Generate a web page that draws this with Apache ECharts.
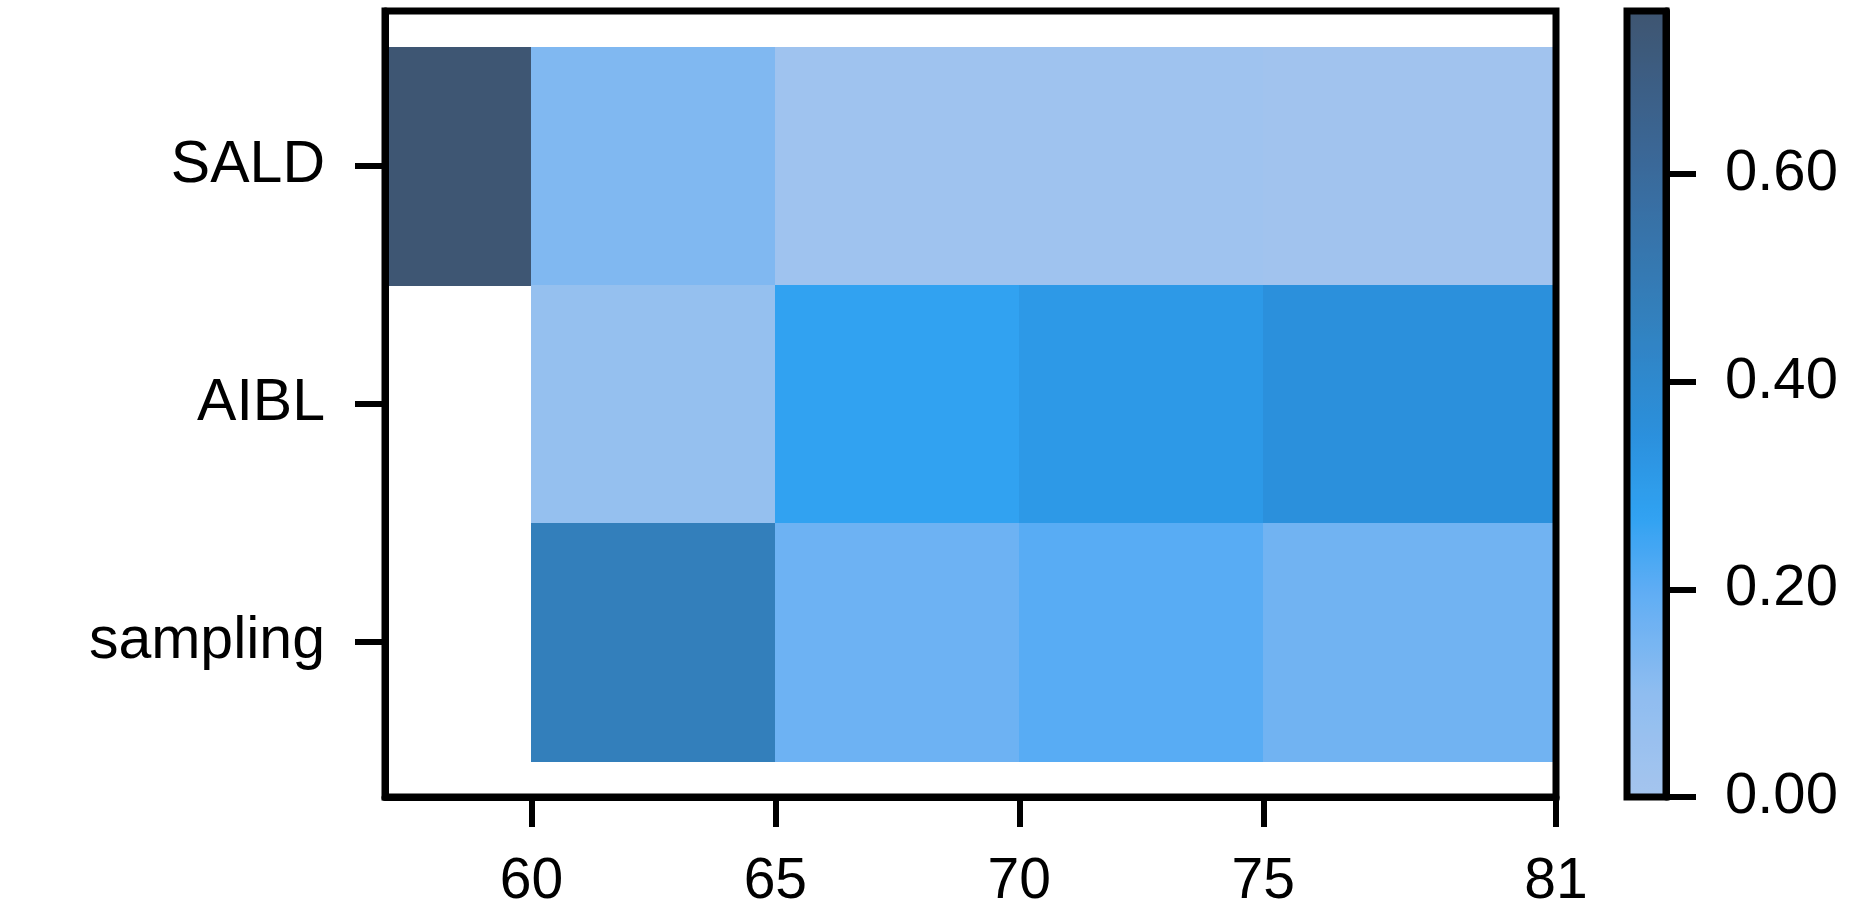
<!DOCTYPE html>
<html>
<head>
<meta charset="utf-8">
<script src="https://cdn.jsdelivr.net/npm/echarts@6/dist/echarts.min.js"></script>
<style>
html,body{margin:0;padding:0;background:#fff;}
#main{width:1849px;height:921px;}
</style>
</head>
<body>
<div id="main"></div>
<script>
// ---- data ----
const categories = ['SALD', 'AIBL', 'sampling'];
const binStarts = [57, 60, 65, 70, 75];
const binEnds = [60, 65, 70, 75, 81];
const saldValues = [0.75, 0.13, 0.03, 0.03, 0.02];
const aiblValues = [null, 0.07, 0.27, 0.31, 0.35];
const samplingValues = [null, 0.47, 0.17, 0.21, 0.16];
const xTickValues = [60, 65, 70, 75, 81];
const colorTickValues = [0, 0.2, 0.4, 0.6];
const colorMin = 0;
const colorMax = 0.757;
// colour ramp key points (value -> colour)
const rampValues = [0, 0.1, 0.2, 0.27, 0.35, 0.47, 0.6, 0.757];
const rampColors = ['#a5c5ee', '#8fbdf0', '#5eadf4', '#30a2f2', '#2b90dc', '#337fbb', '#3a6a9c', '#3e5571'];

// build evenly spaced stops for the visualMap from the key points
function hex2rgb(h) { return [1, 3, 5].map(i => parseInt(h.substr(i, 2), 16)); }
function rgb2hex(c) { return '#' + c.map(v => Math.round(v).toString(16).padStart(2, '0')).join(''); }
function rampAt(v) {
  for (let i = 0; i < rampValues.length - 1; i++) {
    if (v <= rampValues[i + 1]) {
      const t = (v - rampValues[i]) / (rampValues[i + 1] - rampValues[i]);
      const a = hex2rgb(rampColors[i]), b = hex2rgb(rampColors[i + 1]);
      return rgb2hex(a.map((x, k) => x + (b[k] - x) * t));
    }
  }
  return rampColors[rampColors.length - 1];
}
const N = 80;
const colorStops = [];
for (let i = 0; i <= N; i++) colorStops.push(rampAt(colorMin + (colorMax - colorMin) * i / N));

const rows = [saldValues, aiblValues, samplingValues];
const cellData = [];
rows.forEach((vals, r) => {
  vals.forEach((v, i) => {
    if (v !== null) cellData.push([binStarts[i], binEnds[i], r, v]);
  });
});

const FONT = 'Liberation Sans, Arial, Helvetica, sans-serif';
const BW = 7;
const TW = 6;
const TL = 30;
const chart = echarts.init(document.getElementById('main'));
chart.setOption({
  animation: false,
  backgroundColor: '#fff',
  grid: [
    {left: 385, right: 293, top: 11, bottom: 124, show: true, borderColor: '#000', borderWidth: BW, z: 5},
    {left: 1627, width: 39, top: 11, bottom: 124, show: true, borderColor: '#000', borderWidth: BW, backgroundColor: 'transparent', z: 5}
  ],
  xAxis: [
    {
      type: 'value', gridIndex: 0, min: 57, max: 81, z: 6, position: 'bottom',
      axisLine: {show: true, onZero: false, lineStyle: {color: '#000', width: BW}},
      axisTick: {show: true, inside: false, length: TL, lineStyle: {color: '#000', width: TW}, customValues: xTickValues},
      axisLabel: {show: true, customValues: xTickValues, fontSize: 57, color: '#000', fontFamily: FONT, margin: 57},
      splitLine: {show: false}
    },
    {type: 'value', gridIndex: 1, min: 0, max: 1, show: false}
  ],
  yAxis: [
    {
      type: 'value', gridIndex: 0, min: -0.65, max: 2.65, inverse: true, z: 6, position: 'left',
      axisLine: {show: true, onZero: false, lineStyle: {color: '#000', width: BW}},
      axisTick: {show: true, inside: false, length: TL, lineStyle: {color: '#000', width: TW}, customValues: [0, 1, 2]},
      axisLabel: {show: true, customValues: [0, 1, 2], fontSize: 59, color: '#000', fontFamily: FONT, margin: 60,
        formatter: v => categories[Math.round(v)]},
      splitLine: {show: false}
    },
    {
      type: 'value', gridIndex: 1, min: colorMin, max: colorMax, position: 'right', z: 6,
      axisLine: {show: true, onZero: false, lineStyle: {color: '#000', width: BW}},
      axisTick: {show: true, inside: false, length: TL, lineStyle: {color: '#000', width: TW}, customValues: colorTickValues},
      axisLabel: {show: true, inside: false, customValues: colorTickValues, fontSize: 58, color: '#000', fontFamily: FONT, margin: 59,
        formatter: v => v.toFixed(2)},
      splitLine: {show: false}
    }
  ],
  visualMap: {
    type: 'continuous', min: colorMin, max: colorMax, dimension: 3, seriesIndex: 0,
    inRange: {color: colorStops},
    orient: 'vertical', left: 1628, top: 11, itemWidth: 36, itemHeight: 786,
    padding: 0, text: null, calculable: false, hoverLink: false, showLabel: false,
    textStyle: {fontSize: 0}, realtime: false, z: 1
  },
  series: [{
    type: 'custom', xAxisIndex: 0, yAxisIndex: 0,
    data: cellData,
    encode: {x: [0, 1], y: 2},
    emphasis: {disabled: true},
    renderItem: function (params, api) {
      const p0 = api.coord([api.value(0), api.value(2) - 0.5]);
      const p1 = api.coord([api.value(1), api.value(2) + 0.5]);
      const x0 = Math.round(p0[0]), x1 = Math.round(p1[0]);
      const y0 = Math.round(p0[1]), y1 = Math.round(p1[1]);
      return {
        type: 'rect',
        shape: {x: x0, y: y0, width: x1 - x0 + 1, height: y1 - y0 + 1},
        style: {fill: api.visual('color'), lineWidth: 0}
      };
    },
    z: 1
  }]
});
</script>
</body>
</html>
